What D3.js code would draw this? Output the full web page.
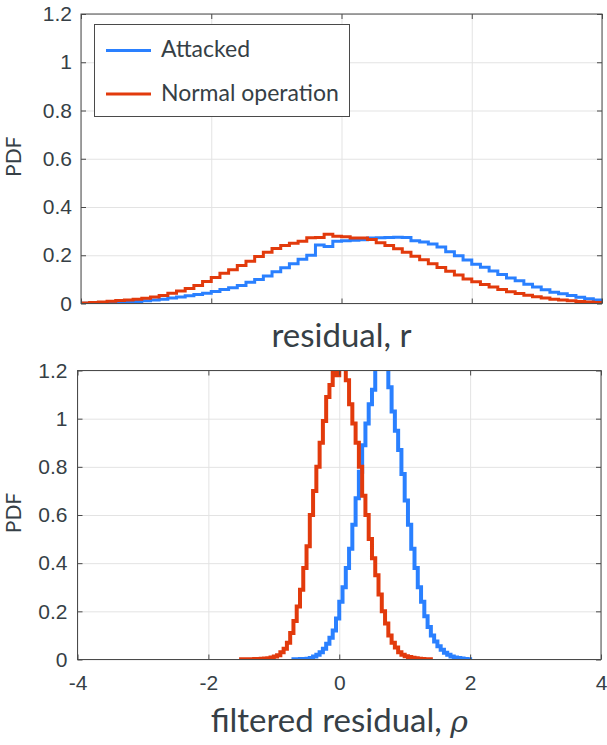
<!DOCTYPE html>
<html>
<head>
<meta charset="utf-8">
<script src="https://cdn.jsdelivr.net/npm/d3@7/dist/d3.min.js"></script>
<style>
  body { margin: 0; background: #fff; }
  svg { font-family: Lato, "Open Sans", sans-serif; }
  .tick text { fill: #363f46; }
</style>
</head>
<body>
<div id="canvas"></div>
<script>
// histogram data (PDF per bin)
var seriesNames = ['Attacked', 'Normal operation']
var seriesColors = ['#2a80ff', '#e23a0c']

// top panel: residual r, 60 bins from -4 to 4
var resStart = -4
var resWidth = 8 / 60
var resAttacked = [
  0.001, 0.002, 0.002, 0.003, 0.004, 0.006, 0.008, 0.011, 0.014, 0.018,
  0.023, 0.027, 0.032, 0.037, 0.042, 0.050, 0.058, 0.065, 0.075, 0.088,
  0.100, 0.114, 0.132, 0.148, 0.165, 0.183, 0.200, 0.243, 0.236, 0.258,
  0.260, 0.262, 0.264, 0.271, 0.273, 0.274, 0.275, 0.274, 0.260, 0.255,
  0.247, 0.234, 0.215, 0.198, 0.180, 0.163, 0.150, 0.135, 0.120, 0.106,
  0.094, 0.080, 0.068, 0.057, 0.047, 0.040, 0.033, 0.026, 0.020, 0.015
]
var resNormal = [
  0.002, 0.004, 0.006, 0.009, 0.012, 0.015, 0.018, 0.022, 0.027, 0.033,
  0.043, 0.052, 0.062, 0.075, 0.091, 0.108, 0.125, 0.140, 0.157, 0.175,
  0.195, 0.212, 0.228, 0.240, 0.250, 0.258, 0.273, 0.274, 0.287, 0.279,
  0.277, 0.272, 0.271, 0.265, 0.252, 0.240, 0.227, 0.212, 0.196, 0.181,
  0.165, 0.149, 0.134, 0.118, 0.102, 0.090, 0.079, 0.068, 0.058, 0.049,
  0.041, 0.034, 0.028, 0.023, 0.018, 0.015, 0.011, 0.008, 0.006, 0.004
]

// bottom panel: filtered residual rho, bins of 0.05
var filtWidth = 0.05
var filtAttackedStart = -0.7
var filtAttacked = [
  0.001, 0.001, 0.002, 0.002, 0.003, 0.006, 0.012, 0.020, 0.030, 0.045,
  0.065, 0.090, 0.120, 0.170, 0.240, 0.300, 0.380, 0.460, 0.560, 0.670,
  0.780, 0.890, 0.980, 1.060, 1.120, 1.220, 1.260, 1.280, 1.240, 1.130,
  1.030, 0.950, 0.870, 0.770, 0.660, 0.560, 0.460, 0.380, 0.300, 0.240,
  0.180, 0.135, 0.100, 0.075, 0.055, 0.040, 0.028, 0.020, 0.012, 0.008,
  0.006, 0.004, 0.002, 0.001
]
var filtNormalStart = -1.5
var filtNormal = [
  0.001, 0.001, 0.001, 0.001, 0.002, 0.002, 0.003, 0.004, 0.005, 0.008,
  0.012, 0.018, 0.030, 0.045, 0.070, 0.110, 0.160, 0.220, 0.290, 0.380,
  0.470, 0.600, 0.700, 0.800, 0.900, 0.990, 1.090, 1.140, 1.220, 1.180,
  1.250, 1.230, 1.160, 1.060, 0.980, 0.900, 0.800, 0.680, 0.600, 0.500,
  0.420, 0.350, 0.270, 0.200, 0.150, 0.100, 0.070, 0.050, 0.030, 0.020,
  0.014, 0.010, 0.007, 0.005, 0.003, 0.002, 0.001, 0.001
]

var yTicks = [0, 0.2, 0.4, 0.6, 0.8, 1, 1.2]
var xTicks = [-4, -2, 0, 2, 4]

var W = 607, H = 745
var textColor = '#363f46'
var axisColor = '#4a4a4a'
var gridColor = '#e3e3e3'

let Svg = d3.select('#canvas')
  .append('svg')
  .attr('width', W)
  .attr('height', H)

function stairs(start, width, vals) {
  let pts = [[start, 0]]
  vals.forEach((v, i) => pts.push([start + i * width, v]))
  pts.push([start + vals.length * width, vals[vals.length - 1]])
  pts.push([start + vals.length * width, 0])
  return pts
}

function panel(opt) {
  let x = d3.scaleLinear().domain([-4, 4]).range([opt.left, opt.right])
  let y = d3.scaleLinear().domain([0, 1.2]).range([opt.bottom, opt.top])
  let g = Svg.append('g')
  let w = opt.right - opt.left, h = opt.bottom - opt.top

  // grid
  g.append('g')
    .attr('class', 'grid')
    .attr('transform', `translate(0,${opt.bottom})`)
    .call(d3.axisBottom(x).tickValues(xTicks).tickSize(-h).tickFormat(''))
  g.append('g')
    .attr('class', 'grid')
    .attr('transform', `translate(${opt.left},0)`)
    .call(d3.axisLeft(y).tickValues(yTicks).tickSize(-w).tickFormat(''))
  g.selectAll('.grid .domain').remove()
  g.selectAll('.grid line').attr('stroke', gridColor)

  // data
  let clipId = 'clip' + opt.id
  Svg.append('clipPath').attr('id', clipId)
    .append('rect')
    .attr('x', opt.left).attr('y', opt.top)
    .attr('width', w).attr('height', h)

  let line = d3.line()
    .x(d => x(d[0]))
    .y(d => y(d[1]))
    .curve(d3.curveStepAfter)

  opt.series.forEach((s, i) => {
    g.append('path')
      .attr('clip-path', `url(#${clipId})`)
      .attr('d', line(stairs(s.start, s.width, s.vals)))
      .attr('fill', 'none')
      .attr('stroke', seriesColors[i])
      .attr('stroke-width', opt.lw)
  })

  // axes, ticks inward on all four sides
  let fs = '21px'
  let ax = g.append('g').attr('class', 'ax')
  let xa = ax.append('g')
    .attr('transform', `translate(0,${opt.bottom})`)
    .call(d3.axisBottom(x).tickValues(xTicks).tickSizeInner(-5).tickSizeOuter(0)
      .tickPadding(16).tickFormat(opt.xLabels ? (d => String(d)) : ''))
  xa.selectAll('text').style('font-size', fs).attr('fill', textColor)
  ax.append('g')
    .attr('transform', `translate(0,${opt.top})`)
    .call(d3.axisTop(x).tickValues(xTicks).tickSizeInner(-5).tickSizeOuter(0).tickFormat(''))
  let ya = ax.append('g')
    .attr('transform', `translate(${opt.left},0)`)
    .call(d3.axisLeft(y).tickValues(yTicks).tickSizeInner(-5).tickSizeOuter(0)
      .tickPadding(opt.ypad).tickFormat(d => String(d)))
  ya.selectAll('text').style('font-size', fs).attr('fill', textColor)
  ax.append('g')
    .attr('transform', `translate(${opt.right},0)`)
    .call(d3.axisRight(y).tickValues(yTicks).tickSizeInner(-5).tickSizeOuter(0).tickFormat(''))
  ax.selectAll('.domain').remove()
  ax.selectAll('.tick line').attr('stroke', axisColor)

  g.append('rect')
    .attr('x', opt.left).attr('y', opt.top)
    .attr('width', w).attr('height', h)
    .attr('fill', 'none')
    .attr('stroke', axisColor)
    .attr('stroke-width', 1)

  // labels
  g.append('text')
    .attr('transform', `translate(21,${(opt.top + opt.bottom) / 2 - 2}) rotate(-90)`)
    .attr('text-anchor', 'middle')
    .attr('fill', textColor)
    .style('font-size', '21px')
    .text('PDF')

  let xl = g.append('text')
    .attr('x', (opt.left + opt.right) / 2)
    .attr('y', opt.xlabelY)
    .attr('text-anchor', 'middle')
    .attr('fill', textColor)
    .style('font-size', '33px')
  xl.append('tspan').text(opt.xlabel)
  if (opt.xsym) xl.append('tspan').style('font-style', 'italic')
    .style('font-family', '"DejaVu Serif", serif').style('font-size', '30px').text(opt.xsym)

  return { x, y, g }
}

panel({
  id: 'a', left: 81, right: 602, top: 14, bottom: 303.5, lw: 3, ypad: 9,
  xLabels: false, xlabel: 'residual, r', xlabelY: 347,
  series: [
    { start: resStart, width: resWidth, vals: resAttacked },
    { start: resStart, width: resWidth, vals: resNormal }
  ]
})

panel({
  id: 'b', left: 77.5, right: 601, top: 370.5, bottom: 659.5, lw: 4, ypad: 10,
  xLabels: true, xlabel: 'filtered residual, ', xsym: '\u03c1', xlabelY: 732,
  series: [
    { start: filtAttackedStart, width: filtWidth, vals: filtAttacked },
    { start: filtNormalStart, width: filtWidth, vals: filtNormal }
  ]
})

// legend (top panel)
let lg = Svg.append('g')
lg.append('rect')
  .attr('x', 94.5).attr('y', 24.5)
  .attr('width', 255).attr('height', 92)
  .attr('fill', '#fff')
  .attr('stroke', axisColor)
lg.selectAll('.lgline')
  .data(seriesNames)
  .enter()
  .append('line')
  .attr('x1', 106).attr('x2', 151)
  .attr('y1', (d, i) => 50.5 + i * 43.5)
  .attr('y2', (d, i) => 50.5 + i * 43.5)
  .attr('stroke', (d, i) => seriesColors[i])
  .attr('stroke-width', 3)
lg.selectAll('.lgtext')
  .data(seriesNames)
  .enter()
  .append('text')
  .attr('x', 161)
  .attr('y', (d, i) => 57 + i * 43.5)
  .attr('fill', textColor)
  .style('font-size', '23px')
  .text(d => d)
</script>
</body>
</html>
